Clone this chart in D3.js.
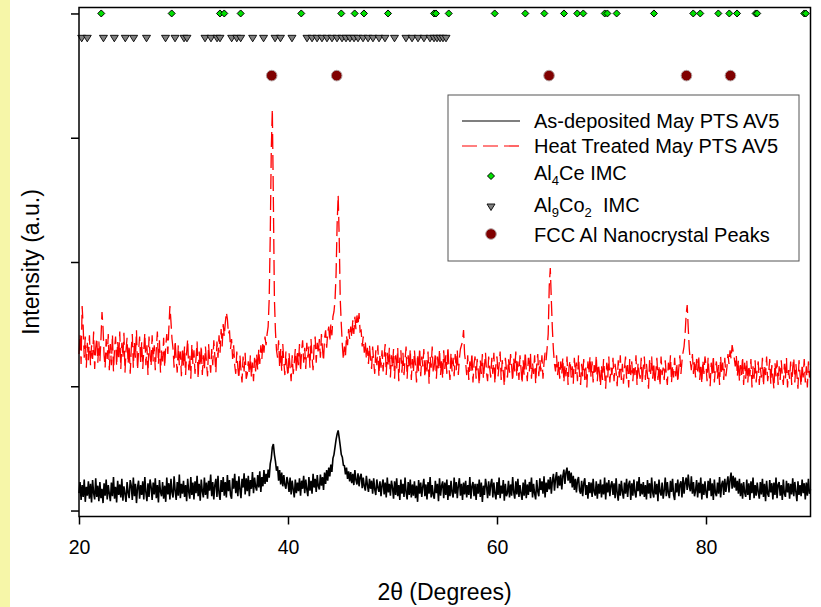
<!DOCTYPE html>
<html lang="en">
<head>
<meta charset="UTF-8">
<title>XRD May PTS AV5</title>
<script src="https://d3js.org/d3.v7.min.js"></script>
<style>
    body { margin: 0; background: #fff; }
    svg { display: block; font-family: "Liberation Sans", Arial, sans-serif; }
    .leg { white-space: pre; }
</style>
</head>
<body>
<svg width="821" height="607"></svg>
<script>
// scans are sampled every 0.1 deg from 20 to 90 deg 2theta
const thetaStart = 20, thetaStep = 0.1;

const asDeposited = [
140,230,85,205,110,250,70,190,120,235,
95,215,65,245,140,90,260,110,200,75,
230,100,175,60,220,120,250,90,205,135,
75,225,115,270,95,190,65,240,125,210,
105,255,80,195,135,70,230,145,100,245,
200,85,265,115,215,60,185,240,95,205,
125,235,90,270,145,75,220,110,250,190,
85,225,130,260,100,205,65,245,150,115,
230,95,200,70,265,130,220,90,255,145,
105,275,160,85,230,120,290,100,215,135,
240,110,205,75,255,150,95,270,125,225,
90,235,140,280,115,215,80,250,155,105,
265,125,225,95,240,160,290,115,230,90,
205,255,110,280,140,85,245,150,270,120,
230,105,285,155,245,125,95,260,175,295,
140,240,115,275,170,100,255,185,300,130,
260,155,280,115,245,175,310,140,265,190,
160,285,185,315,150,270,195,325,215,295,
230,330,265,375,420,510,535,450,395,320,
355,240,325,210,305,195,285,205,175,270,
225,150,265,130,240,170,105,250,140,225,
155,260,120,240,175,280,140,250,170,115,
270,160,240,135,295,185,255,150,285,195,
170,290,200,270,165,305,215,325,240,345,
275,370,310,420,450,510,570,615,645,585,
520,450,430,365,360,290,345,255,315,235,
310,220,295,205,325,245,210,300,195,270,
295,180,265,195,160,280,205,150,255,175,
240,135,260,170,125,250,185,150,235,115,
205,250,130,225,105,265,145,215,120,240,
185,95,235,125,260,115,205,85,250,135,
215,110,265,145,90,230,125,250,105,210,
120,235,100,200,70,245,135,225,110,195,
255,115,210,90,230,135,270,105,205,125,
95,240,140,215,75,260,120,200,235,100,
225,125,250,85,205,115,240,145,105,265,
135,230,100,200,260,120,215,85,225,130,
240,105,205,125,270,95,195,230,115,215,
85,215,135,250,110,225,70,200,125,255,
195,100,235,120,210,255,105,225,135,90,
230,125,265,100,200,135,245,80,215,115,
140,240,105,210,120,270,145,95,235,130,
255,110,205,135,85,225,120,250,100,210,
125,230,150,265,105,215,135,90,245,155,
115,260,165,235,135,275,105,225,150,250,
170,270,135,240,295,160,255,310,180,280,
200,290,170,275,330,215,310,345,240,320,
220,305,185,280,165,255,145,240,270,160,
135,240,115,220,260,125,205,95,230,140,
225,110,255,150,120,235,95,215,135,250,
105,210,130,265,90,225,145,245,115,205,
235,125,220,100,260,140,80,215,120,240,
150,95,225,135,255,110,210,240,85,220,
120,250,145,105,235,155,270,115,215,130,
230,110,205,90,245,135,220,100,265,145,
105,235,130,215,75,250,150,120,225,95,
160,265,115,230,140,100,240,150,255,125,
85,220,145,250,115,210,235,105,270,135,
225,265,165,290,195,155,275,135,230,115,
160,245,105,225,140,265,90,215,125,235,
145,100,240,160,260,115,220,85,250,140,
115,225,135,270,105,210,240,125,255,150,
220,275,145,250,305,175,280,185,265,160,
240,135,255,115,220,95,230,145,110,250,
125,220,85,235,140,265,100,205,120,225,
150,95,230,130,255,110,215,75,240,135,
110,245,145,220,90,225,125,265,100,210,
230,120,205,85,250,135,110,240,145,220,
95,215,130,260,115,230,150,75,235,125,
205,115,250,140,220,90,225,120,255,135,
170
];

const heatTreated = [
1260,1420,1180,1645,1480,1230,1400,1150,1350,1210,
1410,1170,1330,1220,1440,1140,1310,1390,1190,1360,
1200,1380,1597,1470,1250,1150,1380,1220,1420,1130,
1340,1170,1420,1120,1300,1400,1160,1360,1210,1440,
1140,1350,1230,1430,1110,1290,1390,1180,1330,1100,
1300,1420,1150,1360,1230,1450,1130,1280,1400,1190,
1360,1140,1290,1430,1170,1330,1090,1400,1250,1160,
1410,1200,1330,1130,1300,1440,1180,1370,1110,1290,
1200,1390,1150,1320,1420,1260,1470,1645,1520,1380,
1300,1150,1370,1220,1110,1330,1170,1280,1080,1310,
1160,1320,1090,1270,1380,1130,1250,1060,1340,1180,
1290,1100,1230,1360,1060,1280,1160,1330,1090,1250,
1130,1320,1190,1080,1340,1210,1110,1300,1170,1370,
1240,1110,1360,1230,1410,1270,1460,1320,1500,1400,
1510,1597,1540,1420,1450,1300,1380,1220,1330,1170,
1100,1280,1150,1060,1250,1130,1030,1240,1120,1270,
1060,1098,1200,1100,1250,1070,1190,1040,1230,1120,
1260,1130,1300,1180,1330,1220,1360,1270,1400,1330,
1420,1480,1700,2200,2902,3231,2498,1700,1440,1290,
1230,1370,1150,1300,1120,1340,1200,1090,1280,1160,
1080,1270,1150,1040,1250,1098,1190,1300,1110,1290,
1170,1340,1120,1280,1370,1190,1310,1140,1350,1230,
1320,1150,1380,1240,1130,1330,1400,1190,1350,1260,
1380,1230,1420,1300,1200,1390,1450,1310,1430,1480,
1360,1500,1410,1560,1600,1694,1900,2300,2539,2200,
1700,1500,1331,1211,1320,1240,1410,1330,1460,1380,
1480,1390,1530,1420,1560,1460,1570,1490,1590,1440,
1450,1320,1400,1270,1360,1220,1310,1180,1330,1220,
1140,1320,1200,1100,1290,1170,1330,1080,1260,1150,
1290,1120,1240,1340,1090,1270,1160,1310,1070,1250,
1150,1300,1060,1250,1130,1310,1040,1230,1290,1110,
1270,1090,1210,1320,1060,1250,1140,1300,1050,1220,
1110,1290,1170,1030,1260,1120,1310,1080,1240,1160,
1300,1070,1210,1120,1280,1020,1240,1150,1320,1100,
1170,1270,1060,1240,1130,1300,1090,1220,1060,1290,
1140,1250,1100,1320,1160,1050,1270,1120,1230,1080,
1260,1130,1290,1090,1220,1300,1330,1360,1452,1260,
1190,1090,1250,1050,1200,1120,1270,1030,1180,1240,
1060,1220,1130,1010,1210,1100,1260,1060,1160,1270,
1110,1040,1240,1150,1070,1230,1100,1270,1020,1190,
1240,1080,1170,1280,1050,1210,1120,1000,1230,1140,
1070,1220,1110,1260,1160,1040,1230,1120,1280,1080,
1200,1050,1250,1140,1020,1210,1090,1280,1130,1040,
1230,1120,1270,1060,1190,1100,1250,1020,1170,1260,
1080,1210,1120,1250,1060,1190,1270,1210,1310,1420,
1806,1951,1694,1460,1290,1180,1120,1250,1090,1200,
1060,1200,1100,1230,1030,1170,1080,1240,1010,1160,
1210,1070,1160,1020,1230,1100,1190,1040,1250,1090,
1010,1180,1080,1220,1050,1150,990,1200,1100,1240,
1070,1200,1030,1170,1090,1250,1040,1180,1110,1000,
1170,1050,1220,1100,980,1190,1070,1240,1030,1150,
1090,1230,1040,1180,1110,1000,1210,1070,1250,1050,
1180,1020,1150,1240,1060,1170,990,1220,1090,1200,
1040,1170,1090,1250,1010,1190,1110,1060,1230,1020,
1150,1240,1050,1180,1090,980,1210,1100,1240,1060,
1190,1020,1120,1230,1050,1170,1000,1240,1090,1150,
1050,1210,1090,1010,1190,1110,1250,1030,1170,1070,
1230,1080,1190,1030,1150,1250,1100,1200,1270,1320,
1420,1574,1654,1470,1300,1200,1130,1260,1100,1210,
1070,1220,1120,1250,1050,1180,1020,1210,1100,1240,
1170,1040,1230,1100,1000,1190,1080,1250,1030,1150,
1200,1060,1170,1010,1240,1100,1190,1050,1230,1080,
1150,1260,1180,1290,1220,1331,1280,1230,1160,1250,
1080,1210,1040,1170,1090,1240,1010,1190,1060,1210,
1030,1170,1080,1220,990,1160,1060,1210,1030,1140,
1200,1010,1150,1070,1230,1000,1170,1090,1240,1040,
1110,1220,1020,1170,1070,980,1190,1080,1210,1010,
1160,1050,1210,1090,1010,1180,1060,1230,990,1130,
1060,1200,1010,1150,1230,1030,1180,1090,980,1210,
1100,1000,1180,1070,1220,1030,1160,990,1200,1070,
1140
];

// reference phase positions (deg 2theta)
const al4ceAngles = [22.13, 28.87, 33.49, 33.90, 35.47, 41.27, 45.10, 46.38, 47.27, 49.57,
    53.97, 54.16, 55.38, 59.78, 62.71, 64.53, 66.41, 67.68, 68.26, 70.31, 70.56, 71.45,
    75.02, 78.78, 79.45, 81.18, 82.23, 82.97, 84.75, 84.9, 89.4, 89.55];
const al9co2Angles = [20.26, 20.79, 22.34, 23.38, 24.43, 25.23, 26.46, 28.28, 29.19, 30.05,
    30.33, 32.06, 32.63, 33.21, 33.49, 34.61, 35.10, 35.47, 36.62, 37.66, 38.76, 39.28,
    40.38, 41.82, 42.30, 42.78, 43.25, 43.73, 44.21, 44.69, 45.17, 45.55, 45.93, 46.32,
    46.70, 47.18, 47.66, 48.13, 48.71, 49.28, 50.19, 51.29, 51.87, 52.44, 53.01, 53.59,
    53.97, 54.26, 54.55, 54.83, 55.12];
const fccAngles = [38.44, 44.66, 64.98, 78.13, 82.34];
const al4ceLevel = 4000, al9co2Level = 3800, fccLevel = 3500;

const xTicks = [20, 40, 60, 80];
const yTicks = [0, 1000, 2000, 3000, 4000];

var svg = d3.select("svg");
var font = "'Liberation Sans', Arial, sans-serif";

// yellow strip on the left edge
svg.append("rect").attr("x", 0).attr("y", 0).attr("width", 10).attr("height", 607).attr("fill", "#f6f6a8");

var x = d3.scaleLinear().domain([20, 90]).range([79, 810.5]),
    y = d3.scaleLinear().domain([-48, 4048]).range([516.5, 7.5]);

var line = d3.line()
    .x(function (d, i) { return x(thetaStart + i * thetaStep); })
    .y(function (d) { return y(d); });

svg.append("path")
    .datum(heatTreated)
    .attr("d", line)
    .attr("fill", "none")
    .attr("stroke", "#ff0000")
    .attr("stroke-width", 1.3)
    .attr("stroke-dasharray", "15,6");

svg.append("path")
    .datum(asDeposited)
    .attr("d", line)
    .attr("fill", "none")
    .attr("stroke", "#000")
    .attr("stroke-width", 1.6);

// phase markers
var diamond = "M0,-3.5L3.5,0L0,3.5L-3.5,0Z",
    triangle = "M-4,-3L4,-3L0,3.5Z";

function drawDiamond(g, cx, cy) {
    g.append("path").attr("d", diamond).attr("transform", "translate(" + cx + "," + cy + ")")
        .attr("fill", "#00e000").attr("stroke", "#000").attr("stroke-width", 1);
}
function drawTriangle(g, cx, cy) {
    g.append("path").attr("d", triangle).attr("transform", "translate(" + cx + "," + cy + ")")
        .attr("fill", "#808080").attr("stroke", "#000").attr("stroke-width", 0.9);
}
function drawDot(g, cx, cy) {
    g.append("circle").attr("cx", cx).attr("cy", cy).attr("r", 5.3)
        .attr("fill", "#800000").attr("stroke", "#b0a0a0").attr("stroke-width", 1);
}

var marks = svg.append("g");
al9co2Angles.forEach(function (a) { drawTriangle(marks, x(a), y(al9co2Level)); });
al4ceAngles.forEach(function (a) { drawDiamond(marks, x(a), y(al4ceLevel)); });
fccAngles.forEach(function (a) { drawDot(marks, x(a), y(fccLevel)); });

// axes
var xAxis = svg.append("g")
    .attr("transform", "translate(0,516.5)")
    .call(d3.axisBottom(x).tickValues(xTicks).tickSize(8).tickSizeOuter(0).tickPadding(15.5));
var yAxis = svg.append("g")
    .attr("transform", "translate(79,0)")
    .call(d3.axisLeft(y).tickValues(yTicks).tickSize(8).tickSizeOuter(0).tickFormat(""));

[xAxis, yAxis].forEach(function (a) {
    a.select(".domain").remove();
    a.selectAll(".tick line").attr("stroke", "#000").attr("stroke-width", 1.5);
    a.selectAll(".tick text").attr("fill", "#000").attr("font-size", "19.5px").attr("font-family", font);
});

svg.append("rect")
    .attr("x", 79).attr("y", 7.5).attr("width", 731.5).attr("height", 509)
    .attr("fill", "none").attr("stroke", "#000").attr("stroke-width", 1.5);

// axis titles
svg.append("text")
    .attr("x", 444.5).attr("y", 599.5)
    .attr("text-anchor", "middle").attr("font-size", "23px")
    .text("2\u03B8 (Degrees)");
svg.append("text")
    .attr("transform", "translate(38.5,262) rotate(-90)")
    .attr("text-anchor", "middle").attr("font-size", "23px")
    .text("Intensity (a.u.)");

// legend
var leg = svg.append("g");
leg.append("rect").attr("x", 448).attr("y", 95).attr("width", 351).attr("height", 166)
    .attr("fill", "#fff").attr("stroke", "#555").attr("stroke-width", 1);

leg.append("line").attr("x1", 462).attr("x2", 520).attr("y1", 121).attr("y2", 121)
    .attr("stroke", "#000").attr("stroke-width", 1.2);
leg.append("line").attr("x1", 462).attr("x2", 520).attr("y1", 146).attr("y2", 146)
    .attr("stroke", "#ff0000").attr("stroke-width", 1.2).attr("stroke-dasharray", "15,6");
drawDiamond(leg, 491, 176);
drawTriangle(leg, 491, 207);
drawDot(leg, 491, 234);

function legText(yPos) {
    return leg.append("text").attr("class", "leg").attr("x", 534).attr("y", yPos).attr("font-size", "20px");
}
legText(128).text("As-deposited May PTS AV5");
legText(153).text("Heat Treated May PTS AV5");
var t3 = legText(179.5);
t3.append("tspan").text("Al");
t3.append("tspan").attr("font-size", "13px").attr("dy", 5).text("4");
t3.append("tspan").attr("dy", -5).text("Ce IMC");
var t4 = legText(211.5);
t4.append("tspan").text("Al");
t4.append("tspan").attr("font-size", "13px").attr("dy", 5).text("9");
t4.append("tspan").attr("dy", -5).text("Co");
t4.append("tspan").attr("font-size", "13px").attr("dy", 5).text("2");
t4.append("tspan").attr("dy", -5).text("  IMC");
legText(242).text("FCC Al Nanocrystal Peaks");
</script>
</body>
</html>
